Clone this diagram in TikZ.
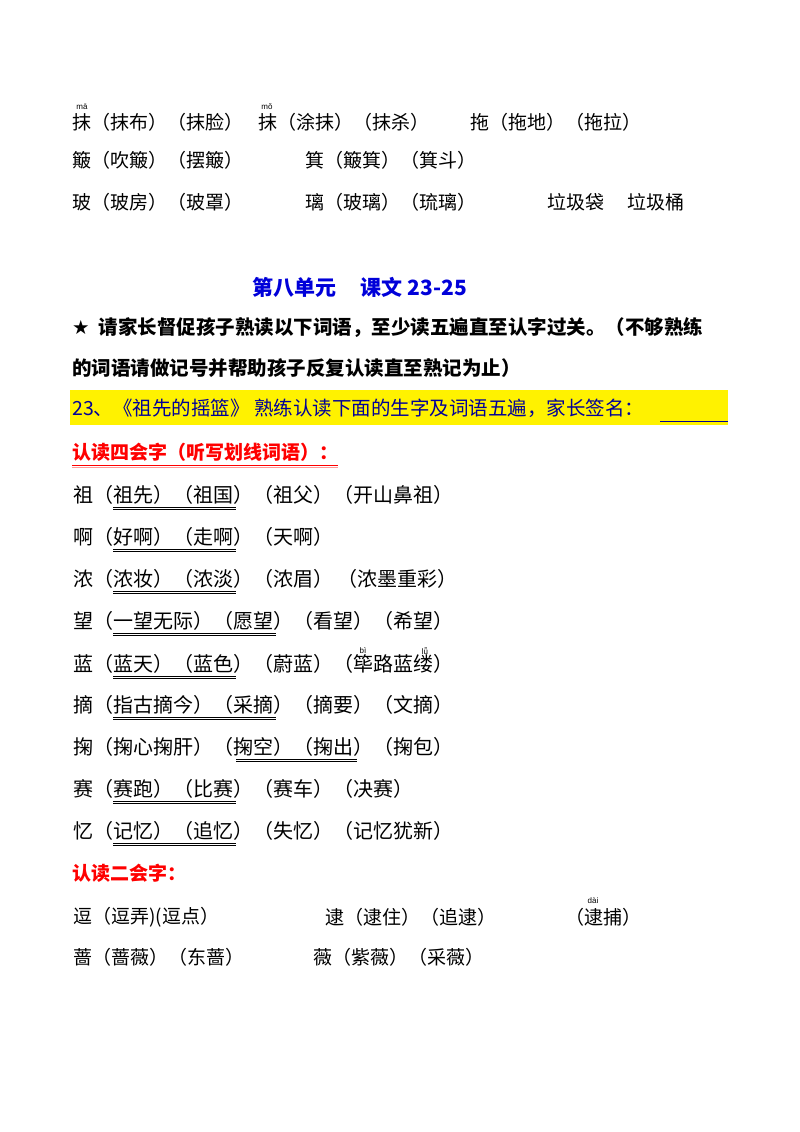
\documentclass[tikz,border=0pt]{standalone}
\usepackage{fontspec}
\setmainfont{Noto Sans CJK SC}
\newfontfamily\latn{Liberation Sans}
\newfontfamily\djv{DejaVu Sans}
\begin{document}
\begin{tikzpicture}[x=1pt,y=-1pt,
 t/.style={anchor=west,inner sep=0pt,font=\fontsize{20}{20}\selectfont},
 py/.style={anchor=center,inner sep=0pt,font=\latn\fontsize{8}{8}\selectfont},
 ul/.style={line width=0.7pt}]
\useasboundingbox (0,0) rectangle (800,1132);
% top rows
\node[t,font=\fontsize{19}{19}\selectfont] (a1) at (72,122) {抹（抹布）（抹脸）};
\node[t,font=\fontsize{19}{19}\selectfont] (a2) at (258,122) {抹（涂抹）（抹杀）};
\node[t,font=\fontsize{19}{19}\selectfont] (a3) at (470,122) {拖（拖地）（拖拉）};
\node[py] (p1) at (82,107) {mā};
\node[py] (p2) at (267,107) {mǒ};
\node[t,font=\fontsize{19}{19}\selectfont] (b1) at (72,160) {簸（吹簸）（摆簸）};
\node[t,font=\fontsize{19}{19}\selectfont] (b2) at (305,160) {箕（簸箕）（箕斗）};
\node[t,font=\fontsize{19}{19}\selectfont] (c1) at (72,202) {玻（玻房）（玻罩）};
\node[t,font=\fontsize{19}{19}\selectfont] (c2) at (305,202) {璃（玻璃）（琉璃）};
\node[t,font=\fontsize{19}{19}\selectfont] (c3) at (547,202) {垃圾袋};
\node[t,font=\fontsize{19}{19}\selectfont] (c4) at (627,202) {垃圾桶};
% heading
\node[anchor=center,inner sep=0pt,text=blue!85!black,font=\bfseries\fontsize{21}{21}\selectfont] (h) at (360,287) {第八单元\hspace{24pt}课文 23-25};
\node[t,font=\bfseries\fontsize{19.5}{19.5}\selectfont] (s1) at (72,328) {{\djv ★}\ \ 请家长督促孩子熟读以下词语，至少读五遍直至认字过关。（不够熟练};
\node[t,font=\bfseries\fontsize{19.5}{19.5}\selectfont] (s2) at (72,368) {的词语请做记号并帮助孩子反复认读直至熟记为止）};
\fill[yellow] (70,390) rectangle (728,425);
\node[t,text=blue!60!black,font=\fontsize{19.5}{19.5}\selectfont] (y) at (72,408) {23、《祖先的摇篮》\ 熟练认读下面的生字及词语五遍，家长签名：};
\coordinate (sg1) at (660,421); \coordinate (sg2) at (728,421);
\draw[blue!60!black,line width=0.8pt] (sg1) -- (sg2);
\node[t,text=red,font=\bfseries\fontsize{19}{19}\selectfont] (r1) at (72,452) {认读四会字（听写划线词语）：};
\coordinate (ru1) at (72,465); \coordinate (ru2) at (338,465);
\draw[red,line width=0.9pt] (ru1) -- (ru2);
\draw[red!40,line width=0.9pt] ([yshift=-2pt]ru1) -- ([yshift=-2pt]ru2);
% rows
\node[t] (w1) at (73,495) {祖（祖先）（祖国）（祖父）（开山鼻祖）};
\node[t] (w2) at (73,537) {啊（好啊）（走啊）（天啊）};
\node[t] (w3) at (73,579) {浓（浓妆）（浓淡）（浓眉）\ （浓墨重彩）};
\node[t] (w4) at (73,621) {望（一望无际）（愿望）（看望）（希望）};
\node[t] (w5) at (73,664) {蓝（蓝天）（蓝色）（蔚蓝）（筚路蓝缕）};
\node[py] (p3) at (363,651) {bì};
\node[py] (p4) at (425,651) {lǚ};
\node[t] (w6) at (73,705) {摘（指古摘今）（采摘）（摘要）（文摘）};
\node[t] (w7) at (73,747) {掬（掬心掬肝）（掬空）（掬出）（掬包）};
\node[t] (w8) at (73,789) {赛（赛跑）（比赛）（赛车）（决赛）};
\node[t] (w9) at (73,831) {忆（记忆）（追忆）（失忆）（记忆犹新）};
\coordinate (u1a) at (113,507); \coordinate (u1b) at (236,507);
\coordinate (u2a) at (113,549); \coordinate (u2b) at (236,549);
\coordinate (u3a) at (113,591); \coordinate (u3b) at (236,591);
\coordinate (u4a) at (113,633); \coordinate (u4b) at (276,633);
\coordinate (u5a) at (113,676); \coordinate (u5b) at (236,676);
\coordinate (u6a) at (113,717); \coordinate (u6b) at (276,717);
\coordinate (u7a) at (236,759); \coordinate (u7b) at (357,759);
\coordinate (u8a) at (113,801); \coordinate (u8b) at (236,801);
\coordinate (u9a) at (113,843); \coordinate (u9b) at (236,843);
\foreach \k in {1,...,9}{
 \draw[ul] (u\k a) -- (u\k b);
 \draw[ul] ([yshift=-2pt]u\k a) -- ([yshift=-2pt]u\k b);}
% bottom
\node[t,text=red,font=\bfseries\fontsize{19}{19}\selectfont] (r2) at (72,873) {认读二会字：};
\node[t,font=\fontsize{19}{19}\selectfont] (d1) at (73,917) {逗（逗弄)(逗点）};
\node[t,font=\fontsize{19}{19}\selectfont] (d2) at (325,917) {逮（逮住）（追逮）};
\node[t,font=\fontsize{19}{19}\selectfont] (d3) at (565,917) {（逮捕）};
\node[py] (p5) at (593,901) {dài};
\node[t,font=\fontsize{19}{19}\selectfont] (e1) at (73,957) {蔷（蔷薇）（东蔷）};
\node[t,font=\fontsize{19}{19}\selectfont] (e2) at (313,957) {薇（紫薇）（采薇）};
\end{tikzpicture}
\end{document}
